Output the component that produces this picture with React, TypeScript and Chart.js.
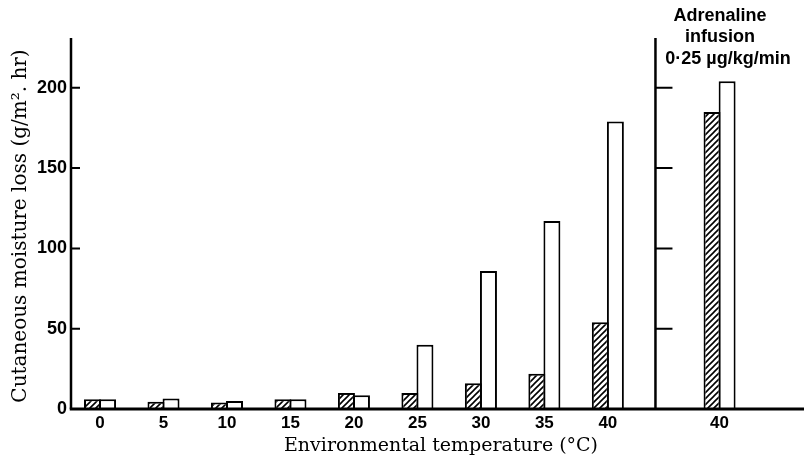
import { useEffect, useRef } from 'react';
import { Chart, registerables } from 'chart.js';

Chart.register(...registerables);

// ---- data ----
const categories = ['0', '5', '10', '15', '20', '25', '30', '35', '40', '40'];
const hatchedValues = [6, 4.5, 4, 6, 10, 10, 16, 22, 54, 185];
const openValues = [6, 6.5, 5, 6, 8.5, 40, 86, 117, 179, 204];
const yTickValues = [0, 50, 100, 150, 200];
const yTitle = 'Cutaneous moisture loss (g/m². hr)';
const xTitle = 'Environmental temperature (°C)';
const noteLines = ['Adrenaline', 'infusion', '0·25 µg/kg/min'];

// layout helpers (slot index along the x axis)
const ADRENALINE_SLOT = 9.76;
const DIVIDER_SLOT = 8.75;
const slot = (i: number) => (i < 9 ? i : ADRENALINE_SLOT);

function makeHatch(): CanvasPattern | string {
  const c = document.createElement('canvas');
  const s = 6;
  c.width = s;
  c.height = s;
  const g = c.getContext('2d');
  if (!g) return '#fff';
  g.fillStyle = '#fff';
  g.fillRect(0, 0, s, s);
  g.strokeStyle = '#000';
  g.lineWidth = 1.6;
  g.beginPath();
  g.moveTo(0, s);
  g.lineTo(s, 0);
  g.moveTo(-1, 1);
  g.lineTo(1, -1);
  g.moveTo(s - 1, s + 1);
  g.lineTo(s + 1, s - 1);
  g.stroke();
  const p = g.createPattern(c, 'repeat');
  return p || '#fff';
}

const axesPlugin = {
  id: 'customAxes',
  afterDatasetsDraw(chart: any) {
    const { ctx, chartArea, scales } = chart;
    const xs = scales.x;
    const ys = scales.y;
    const base = ys.getPixelForValue(0);
    const top = chartArea.top;
    ctx.save();
    ctx.strokeStyle = '#000';
    ctx.lineCap = 'butt';

    // left axis
    const lx = chartArea.left + 1;
    ctx.lineWidth = 2.5;
    ctx.beginPath();
    ctx.moveTo(lx, top);
    ctx.lineTo(lx, base);
    ctx.stroke();
    // divider axis
    const dx = xs.getPixelForValue(DIVIDER_SLOT);
    ctx.beginPath();
    ctx.moveTo(dx, top);
    ctx.lineTo(dx, base);
    ctx.stroke();

    // ticks (inward / rightward)
    ctx.lineWidth = 2;
    yTickValues.forEach((v) => {
      if (v === 0) return;
      const py = ys.getPixelForValue(v);
      ctx.beginPath();
      ctx.moveTo(lx, py);
      ctx.lineTo(lx + 9, py);
      ctx.moveTo(dx, py);
      ctx.lineTo(dx + 17, py);
      ctx.stroke();
    });

    // x axis line
    ctx.lineWidth = 3;
    ctx.beginPath();
    ctx.moveTo(lx - 1.25, base);
    ctx.lineTo(chartArea.right, base);
    ctx.stroke();

    // axis titles
    ctx.fillStyle = '#000';
    ctx.textAlign = 'center';
    ctx.textBaseline = 'middle';
    ctx.font = '19px "DejaVu Serif"';
    ctx.fillText(xTitle, 441, 446);

    ctx.save();
    ctx.font = '20px "DejaVu Serif"';
    ctx.translate(21, 226);
    ctx.rotate(-Math.PI / 2);
    ctx.fillText(yTitle, 0, 0);
    ctx.restore();

    // note
    ctx.font = 'bold 18px "Liberation Sans"';
    ctx.textBaseline = 'alphabetic';
    ctx.fillText(noteLines[0], 720, 21);
    ctx.fillText(noteLines[1], 720, 42);
    ctx.fillText(noteLines[2], 728, 64);

    ctx.restore();
  },
};

export default function App() {
  const ref = useRef<HTMLCanvasElement | null>(null);

  useEffect(() => {
    document.body.style.margin = '0';
    const canvas = ref.current;
    if (!canvas) return;
    const hatch = makeHatch();
    const chart = new Chart(canvas, {
      type: 'bar',
      data: {
        datasets: [
          {
            label: 'hatched',
            data: hatchedValues.map((v, i) => ({ x: slot(i), y: v })),
            backgroundColor: hatch as any,
            borderColor: '#000',
            borderWidth: 2,
          },
          {
            label: 'open',
            data: openValues.map((v, i) => ({ x: slot(i), y: v })),
            backgroundColor: '#fff',
            borderColor: '#000',
            borderWidth: 2,
          },
        ],
      },
      options: {
        responsive: false,
        animation: false,
        devicePixelRatio: 1,
        layout: { padding: { left: 0, top: 38, right: 0, bottom: 0 } },
        datasets: {
          bar: { categoryPercentage: 0.475, barPercentage: 1.125 },
        },
        plugins: { legend: { display: false }, tooltip: { enabled: false } },
        scales: {
          x: {
            type: 'linear',
            offset: false,
            bounds: 'data',
            min: -0.473,
            max: 11.09,
            grid: { display: false, drawTicks: false, offset: false },
            border: { display: false },
            afterBuildTicks: (scale: any) => {
              scale.ticks = categories.map((_, i) => ({ value: slot(i) }));
            },
            afterFit: (scale: any) => {
              scale.height = 53;
            },
            ticks: {
              autoSkip: false,
              maxRotation: 0,
              padding: 4,
              color: '#000',
              font: { family: '"Liberation Sans"', weight: 'bold', size: 17 },
              callback: (_v: any, i: number) => categories[i],
            },
          },
          y: {
            type: 'linear',
            bounds: 'data',
            min: 0,
            max: 231,
            grid: { display: false, drawTicks: false },
            border: { display: false },
            afterFit: (scale: any) => {
              scale.width = 70;
            },
            afterBuildTicks: (scale: any) => {
              scale.ticks = yTickValues.map((v) => ({ value: v }));
            },
            ticks: {
              padding: 3,
              color: '#000',
              font: { family: '"Liberation Sans"', weight: 'bold', size: 18 },
            },
          },
        },
      } as any,
      plugins: [axesPlugin],
    });
    return () => chart.destroy();
  }, []);

  return (
    <div style={{ position: 'absolute', left: 0, top: 0, width: 804, height: 462, background: '#fff' }}>
      <canvas ref={ref} width={804} height={462} />
    </div>
  );
}
